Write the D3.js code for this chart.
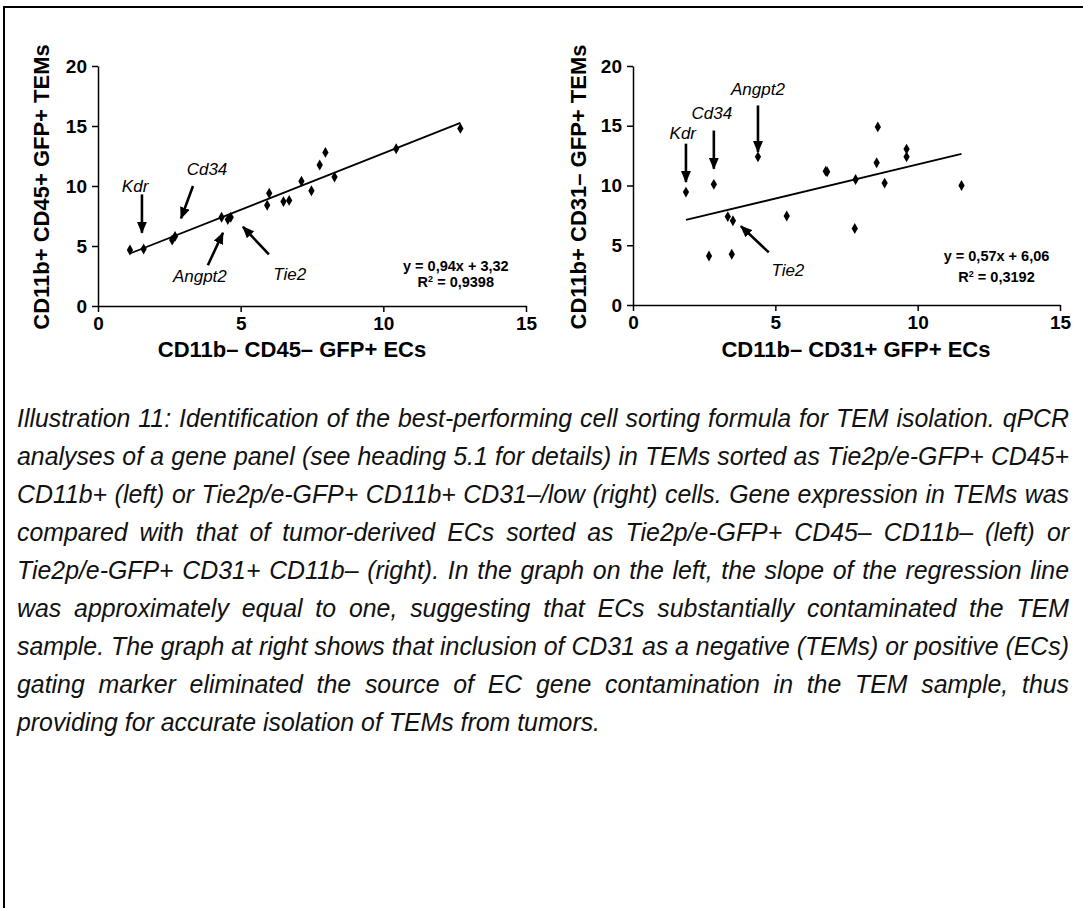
<!DOCTYPE html>
<html>
<head>
<meta charset="utf-8">
<script src="https://cdn.jsdelivr.net/npm/d3@7"></script>
<style>
body { margin:0; background:#fff; }
svg text { font-family: "Liberation Sans", Arial, sans-serif; fill:#000; }
.tick text { font-size:19px; font-weight:bold; }
.axis path, .axis line { stroke:#000; stroke-width:1.5px; }
.title { font-size:22px; font-weight:bold; }
.gene { font-size:17px; font-style:italic; }
.eq { font-size:14.5px; font-weight:bold; }
.caption { font-style:italic; fill:#111; }
</style>
</head>
<body>
<svg id="chart" width="1083" height="908"></svg>
<script>
// ticks
var xTicks = [0, 5, 10, 15];
var yTicks = [0, 5, 10, 15, 20];

// left graph: CD45 gating
var leftX = [1.12, 1.6, 2.6, 2.7, 4.33, 4.55, 4.65, 5.93, 6.0, 6.5, 6.7, 7.13, 7.48, 7.77, 7.97, 8.29, 10.45, 12.7];
var leftY = [4.67, 4.75, 5.5, 5.8, 7.4, 7.2, 7.4, 8.4, 9.4, 8.7, 8.8, 10.4, 9.6, 11.75, 12.8, 10.75, 13.1, 14.8];
var leftFit = [0.94, 3.32, 0.9398]; // slope, intercept, r2

// right graph: CD31 gating
var rightX = [1.86, 2.84, 4.39, 3.33, 3.51, 2.67, 3.47, 5.40, 6.77, 6.82, 7.82, 7.79, 8.56, 8.6, 8.84, 9.61, 9.61, 11.54];
var rightY = [9.45, 10.1, 12.4, 7.4, 7.05, 4.1, 4.25, 7.45, 11.2, 11.15, 10.5, 6.4, 11.9, 14.9, 10.2, 13.05, 12.4, 10.0];
var rightFit = [0.57, 6.06, 0.3192];

var genes = ["Kdr", "Cd34", "Angpt2", "Tie2"];

var caption = [
  "Illustration 11: Identification of the best-performing cell sorting formula for TEM isolation. qPCR",
  "analyses of a gene panel (see heading 5.1 for details) in TEMs sorted as Tie2p/e-GFP+ CD45+",
  "CD11b+ (left) or Tie2p/e-GFP+ CD11b+ CD31\u2013/low (right) cells. Gene expression in TEMs was",
  "compared with that of tumor-derived ECs sorted as Tie2p/e-GFP+ CD45\u2013 CD11b\u2013 (left) or",
  "Tie2p/e-GFP+ CD31+ CD11b\u2013 (right). In the graph on the left, the slope of the regression line",
  "was approximately equal to one, suggesting that ECs substantially contaminated the TEM",
  "sample. The graph at right shows that inclusion of CD31 as a negative (TEMs) or positive (ECs)",
  "gating marker eliminated the source of EC gene contamination in the TEM sample, thus",
  "providing for accurate isolation of TEMs from tumors."
];

var svg = d3.select("#chart");

// frame lines
svg.append("line").attr("x1", 3).attr("x2", 1083).attr("y1", 7).attr("y2", 7)
   .attr("stroke", "#000").attr("stroke-width", 2);
svg.append("line").attr("x1", 4).attr("x2", 4).attr("y1", 6).attr("y2", 908)
   .attr("stroke", "#000").attr("stroke-width", 2);

svg.append("defs").append("marker")
   .attr("id", "head")
   .attr("markerUnits", "userSpaceOnUse")
   .attr("viewBox", "0 0 12 10")
   .attr("refX", 11).attr("refY", 5)
   .attr("markerWidth", 12).attr("markerHeight", 10)
   .attr("orient", "auto")
   .append("path").attr("d", "M0,0 L12,5 L0,10 Z").attr("fill", "#000");

function comma(v) { return String(v).replace(".", ","); }

var panels = [
  { xs: leftX, ys: leftY, fit: leftFit, xr: [98, 526], yr: [306, 66],
    ytitle: "CD11b+ CD45+ GFP+ TEMs", ytx: 41,
    xtitle: "CD11b\u2013 CD45\u2013 GFP+ ECs", xtx: 292,
    eq: [12.54, 2.9, 1.6],
    notes: [ // label x, y, arrow from, arrow to (data units)
      [1.3, 9.5, 1.54, 9.3, 1.54, 6.1],
      [3.82, 10.9, 3.33, 10.0, 2.91, 7.3],
      [3.57, 2.0, 3.85, 3.4, 4.38, 6.1],
      [6.72, 2.2, 5.99, 4.3, 5.08, 6.6]
    ] },
  { xs: rightX, ys: rightY, fit: rightFit, xr: [633, 1060], yr: [305, 66],
    ytitle: "CD11b+ CD31\u2013 GFP+ TEMs", ytx: 578,
    xtitle: "CD11b\u2013 CD31+ GFP+ ECs", xtx: 856,
    eq: [12.77, 3.7, 1.9],
    notes: [
      [1.75, 13.9, 1.86, 13.5, 1.86, 10.3],
      [2.77, 15.6, 2.84, 14.6, 2.84, 11.4],
      [4.39, 17.6, 4.39, 16.7, 4.39, 12.8],
      [5.44, 2.4, 4.77, 4.4, 3.79, 6.6]
    ] }
];

panels.forEach(function(p) {
  var x = d3.scaleLinear().domain([0, 15]).range(p.xr);
  var y = d3.scaleLinear().domain([0, 20]).range(p.yr);
  var g = svg.append("g");

  g.append("g").attr("class", "axis")
   .attr("transform", "translate(0," + p.yr[0] + ")")
   .call(d3.axisBottom(x).tickValues(xTicks).tickSize(6).tickPadding(5).tickSizeOuter(0));
  g.append("g").attr("class", "axis")
   .attr("transform", "translate(" + p.xr[0] + ",0)")
   .call(d3.axisLeft(y).tickValues(yTicks).tickSize(6).tickPadding(5).tickSizeOuter(0));

  // regression line over the data range
  var ext = d3.extent(p.xs);
  g.append("path")
   .datum(ext)
   .attr("fill", "none").attr("stroke", "#000").attr("stroke-width", 1.8)
   .attr("d", d3.line().x(function(d) { return x(d); })
                       .y(function(d) { return y(p.fit[0] * d + p.fit[1]); }));

  g.selectAll(".pt").data(p.xs).enter().append("path")
   .attr("class", "pt")
   .attr("transform", function(d, i) { return "translate(" + x(d) + "," + y(p.ys[i]) + ")"; })
   .attr("d", d3.symbol(d3.symbolDiamond).size(34))
   .attr("fill", "#000");

  p.notes.forEach(function(n, i) {
    g.append("text").attr("class", "gene")
     .attr("x", x(n[0])).attr("y", y(n[1]))
     .attr("text-anchor", "middle").text(genes[i]);
    g.append("line")
     .attr("x1", x(n[2])).attr("y1", y(n[3]))
     .attr("x2", x(n[4])).attr("y2", y(n[5]))
     .attr("stroke", "#000").attr("stroke-width", 2.6)
     .attr("marker-end", "url(#head)");
  });

  g.append("text").attr("class", "eq")
   .attr("x", x(p.eq[0])).attr("y", y(p.eq[1]))
   .attr("text-anchor", "middle")
   .text("y = " + comma(p.fit[0]) + "x + " + comma(p.fit[1]));
  var r = g.append("text").attr("class", "eq")
   .attr("x", x(p.eq[0])).attr("y", y(p.eq[2]))
   .attr("text-anchor", "middle");
  r.append("tspan").text("R");
  r.append("tspan").attr("dy", -5).attr("font-size", "9px").text("2");
  r.append("tspan").attr("dy", 5).text(" = " + comma(p.fit[2]));

  g.append("text").attr("class", "title")
   .attr("transform", "translate(" + (p.ytx + 8) + "," + 187 + ")rotate(-90)")
   .attr("text-anchor", "middle").text(p.ytitle);
  g.append("text").attr("class", "title")
   .attr("x", p.xtx).attr("y", 357)
   .attr("text-anchor", "middle").text(p.xtitle);
});

// caption, justified between two edges; size set so the widest line just fits
var capLeft = 17, capRight = 1069, capTop = 427, capStep = 38;
var cap = svg.append("g");
var lines = cap.selectAll("text").data(caption).enter().append("text")
  .attr("class", "caption")
  .attr("font-size", 20)
  .attr("x", capLeft)
  .attr("y", function(d, i) { return capTop + i * capStep; })
  .text(function(d) { return d; });

var widest = d3.max(lines.nodes(), function(n) { return n.getComputedTextLength(); });
var fs = 20 * (capRight - capLeft) / widest;
lines.attr("font-size", fs);

lines.each(function(d, i) {
  if (i === caption.length - 1) return;
  var w = this.getComputedTextLength();
  var gaps = d.split(" ").length - 1;
  var extra = (capRight - capLeft - w) / gaps;
  d3.select(this).attr("word-spacing", extra);
});
</script>
</body>
</html>
